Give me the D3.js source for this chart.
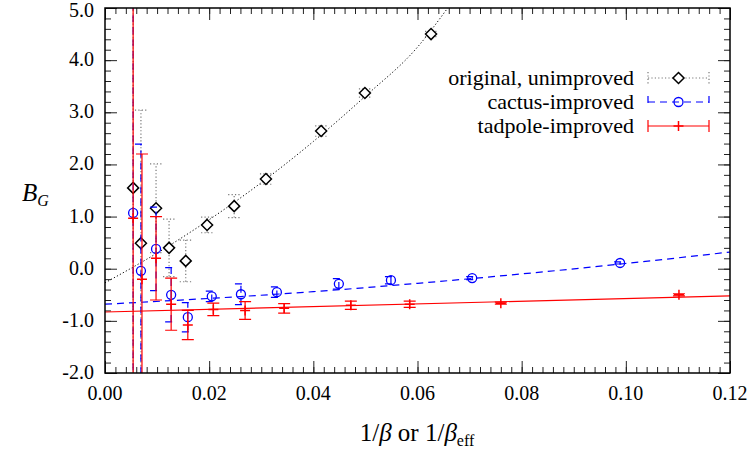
<!DOCTYPE html>
<html>
<head>
<meta charset="utf-8">
<script src="https://cdn.jsdelivr.net/npm/d3@7"></script>
<style>
  body { margin: 0; background: #fff; }
  svg text { font-family: "Liberation Serif", "Times New Roman", serif; fill: #000; }
</style>
</head>
<body>
<svg id="chart" width="752" height="455"></svg>
<script>
'use strict';

// original, unimproved (1/beta)
var origX   = [0.0054, 0.0069, 0.0098, 0.0123, 0.0155, 0.0196, 0.0248, 0.0309, 0.0415, 0.0499, 0.0626];
var origY   = [1.55, 0.49, 1.16, 0.40, 0.15, 0.84, 1.20, 1.72, 2.64, 3.37, 4.50];
var origErr = [9.0, 2.55, 0.85, 0.55, 0.40, 0.15, 0.22, 0.10, 0.10, 0.08, 0.05];

// cactus-improved
var cactX   = [0.0054, 0.0069, 0.0098, 0.0127, 0.0159, 0.0205, 0.0261, 0.0330, 0.0449, 0.0549, 0.0705, 0.0989];
var cactY   = [1.07, -0.04, 0.38, -0.50, -0.93, -0.53, -0.49, -0.45, -0.29, -0.22, -0.18, 0.11];
var cactErr = [9.0, 2.43, 0.80, 0.52, 0.28, 0.10, 0.20, 0.10, 0.10, 0.07, 0.03, 0.02];

// tadpole-improved
var tadX   = [0.0054, 0.0071, 0.0098, 0.0127, 0.0159, 0.0208, 0.0269, 0.0344, 0.0472, 0.0585, 0.0760, 0.1102];
var tadY   = [0.97, -0.20, 0.20, -0.68, -1.08, -0.78, -0.80, -0.76, -0.70, -0.68, -0.66, -0.50];
var tadErr = [9.0, 2.40, 0.80, 0.50, 0.28, 0.12, 0.17, 0.09, 0.08, 0.06, 0.02, 0.02];

// fit curves
var origFitX = [0, 0.01, 0.02, 0.03, 0.04, 0.05, 0.06, 0.0658];
var origFitY = [-0.27, 0.30, 0.94, 1.65, 2.44, 3.31, 4.25, 5.0];
var cactFitX = [0, 0.02, 0.04, 0.06, 0.08, 0.10, 0.12];
var cactFitY = [-0.68, -0.57, -0.44, -0.28, -0.10, 0.10, 0.32];
var tadFitX  = [0, 0.12];
var tadFitY  = [-0.83, -0.52];

var xTicks = [0, 0.02, 0.04, 0.06, 0.08, 0.10, 0.12];
var yTicks = [-2, -1, 0, 1, 2, 3, 4, 5];
var legendLabels = ['original, unimproved', 'cactus-improved', 'tadpole-improved'];

(function () {
    var svg = d3.select('#chart');
    var left = 105, right = 730, top = 8, bottom = 373;

    var x = d3.scaleLinear().domain([0, 0.12]).range([left, right]);
    var y = d3.scaleLinear().domain([-2, 5]).range([bottom, top]);

    svg.append('defs').append('clipPath').attr('id', 'plotclip')
        .append('rect')
        .attr('x', left).attr('y', top)
        .attr('width', right - left).attr('height', bottom - top);

    // ticks on all four sides, pointing in
    var tickSize = 12, minorSize = 6;
    var xMinor = d3.range(0, 0.1201, 0.002);
    var yMinor = d3.range(-2, 5.001, 0.2);

    function ticksGroup(axis, size) {
        return svg.append('g').call(axis.tickSize(size).tickFormat(''));
    }
    // minor
    ticksGroup(d3.axisBottom(x).tickValues(xMinor), -minorSize).attr('transform', 'translate(0,' + bottom + ')');
    ticksGroup(d3.axisTop(x).tickValues(xMinor), -minorSize).attr('transform', 'translate(0,' + top + ')');
    ticksGroup(d3.axisLeft(y).tickValues(yMinor), -minorSize).attr('transform', 'translate(' + left + ',0)');
    ticksGroup(d3.axisRight(y).tickValues(yMinor), -minorSize).attr('transform', 'translate(' + right + ',0)');
    // major
    ticksGroup(d3.axisBottom(x).tickValues(xTicks), -tickSize).attr('transform', 'translate(0,' + bottom + ')');
    ticksGroup(d3.axisTop(x).tickValues(xTicks), -tickSize).attr('transform', 'translate(0,' + top + ')');
    ticksGroup(d3.axisLeft(y).tickValues(yTicks), -tickSize).attr('transform', 'translate(' + left + ',0)');
    ticksGroup(d3.axisRight(y).tickValues(yTicks), -tickSize).attr('transform', 'translate(' + right + ',0)');

    svg.selectAll('.domain').remove();
    svg.selectAll('.tick line').attr('stroke', '#222').attr('stroke-width', 1);

    // tick labels
    svg.append('g').selectAll('text').data(xTicks).enter().append('text')
        .attr('x', function (d) { return x(d); })
        .attr('y', bottom + 27)
        .attr('text-anchor', 'middle')
        .style('font-size', '20px')
        .text(function (d) { return d3.format('.2f')(d); });

    svg.append('g').selectAll('text').data(yTicks).enter().append('text')
        .attr('x', left - 11)
        .attr('y', function (d) { return Math.max(y(d) + 6, 17); })
        .attr('text-anchor', 'end')
        .style('font-size', '20px')
        .text(function (d) { return d3.format('.1f')(d).replace('\u2212', '-'); });

    // series
    var plot = svg.append('g').attr('clip-path', 'url(#plotclip)');
    var capW = 6;

    var series = [
        { xs: origX, ys: origY, es: origErr, fx: origFitX, fy: origFitY,
          color: '#000', barColor: '#777', dash: '1.2,2.2', marker: 'diamond' },
        { xs: cactX, ys: cactY, es: cactErr, fx: cactFitX, fy: cactFitY,
          color: '#0000ff', barColor: '#0000ff', dash: '7,5', marker: 'circle' },
        { xs: tadX, ys: tadY, es: tadErr, fx: tadFitX, fy: tadFitY,
          color: '#ff0000', barColor: '#ff0000', dash: null, marker: 'plus' }
    ];

    function drawMarker(g, kind, cx, cy, color) {
        if (kind === 'diamond') {
            var r = 5.5;
            g.append('path')
                .attr('d', 'M' + cx + ',' + (cy - r) + 'L' + (cx + r) + ',' + cy +
                      'L' + cx + ',' + (cy + r) + 'L' + (cx - r) + ',' + cy + 'Z')
                .attr('fill', '#fff').attr('stroke', color).attr('stroke-width', 1.5);
        } else if (kind === 'circle') {
            g.append('circle').attr('cx', cx).attr('cy', cy).attr('r', 4.5)
                .attr('fill', 'none').attr('stroke', color).attr('stroke-width', 1.3);
        } else {
            g.append('path')
                .attr('d', 'M' + (cx - 5) + ',' + cy + 'H' + (cx + 5) + 'M' + cx + ',' + (cy - 5) + 'V' + (cy + 5))
                .attr('stroke', color).attr('stroke-width', 1.5);
        }
    }

    series.forEach(function (s) {
        var line = d3.line()
            .x(function (d, i) { return x(s.fx[i]); })
            .y(function (d) { return y(d); })
            .curve(d3.curveMonotoneX);
        plot.append('path')
            .datum(s.fy)
            .attr('d', line)
            .attr('fill', 'none')
            .attr('stroke', s.color)
            .attr('stroke-width', s.marker === 'diamond' ? 1 : 1.2)
            .attr('stroke-dasharray', s.dash);

        s.xs.forEach(function (xv, i) {
            var cx = x(xv), y0 = y(s.ys[i] - s.es[i]), y1 = y(s.ys[i] + s.es[i]);
            var g = plot.append('g');
            var p = 'M' + cx + ',' + y0 + 'V' + y1 +
                    'M' + (cx - capW) + ',' + y0 + 'H' + (cx + capW) +
                    'M' + (cx - capW) + ',' + y1 + 'H' + (cx + capW);
            g.append('path').attr('d', p)
                .attr('fill', 'none')
                .attr('stroke', s.barColor)
                .attr('stroke-width', 1.2)
                .attr('stroke-dasharray', s.dash);
            drawMarker(g, s.marker, cx, y(s.ys[i]), s.color);
        });
    });

    // frame
    svg.append('rect')
        .attr('x', left).attr('y', top)
        .attr('width', right - left).attr('height', bottom - top)
        .attr('fill', 'none').attr('stroke', '#000').attr('stroke-width', 1.5);

    // legend
    var legend = svg.append('g');
    legendLabels.forEach(function (label, i) {
        var s = series[i];
        var ly = 78 + i * 24;
        legend.append('text')
            .attr('x', 634).attr('y', ly + 7)
            .attr('text-anchor', 'end')
            .style('font-size', '22px')
            .text(label);
        var x0 = 648, x1 = 709;
        legend.append('path')
            .attr('d', 'M' + x0 + ',' + ly + 'H' + x1 +
                  'M' + x0 + ',' + (ly - capW) + 'V' + (ly + capW) +
                  'M' + x1 + ',' + (ly - capW) + 'V' + (ly + capW))
            .attr('fill', 'none')
            .attr('stroke', s.barColor)
            .attr('stroke-width', 1.2)
            .attr('stroke-dasharray', s.dash);
        drawMarker(legend, s.marker, (x0 + x1) / 2, ly, s.color);
    });

    // axis titles
    var yl = svg.append('text')
        .attr('x', 22).attr('y', 201)
        .style('font-size', '25px');
    yl.append('tspan').style('font-style', 'italic').text('B');
    yl.append('tspan').attr('dy', 5).style('font-size', '16px').style('font-style', 'italic').text('G');

    var xl = svg.append('text')
        .attr('x', 417).attr('y', 441)
        .attr('text-anchor', 'middle')
        .style('font-size', '25px');
    xl.append('tspan').text('1/');
    xl.append('tspan').style('font-style', 'italic').text('\u03b2');
    xl.append('tspan').text(' or 1/');
    xl.append('tspan').style('font-style', 'italic').text('\u03b2');
    xl.append('tspan').attr('dy', 5).style('font-size', '16px').text('eff');
})();
</script>
</body>
</html>
